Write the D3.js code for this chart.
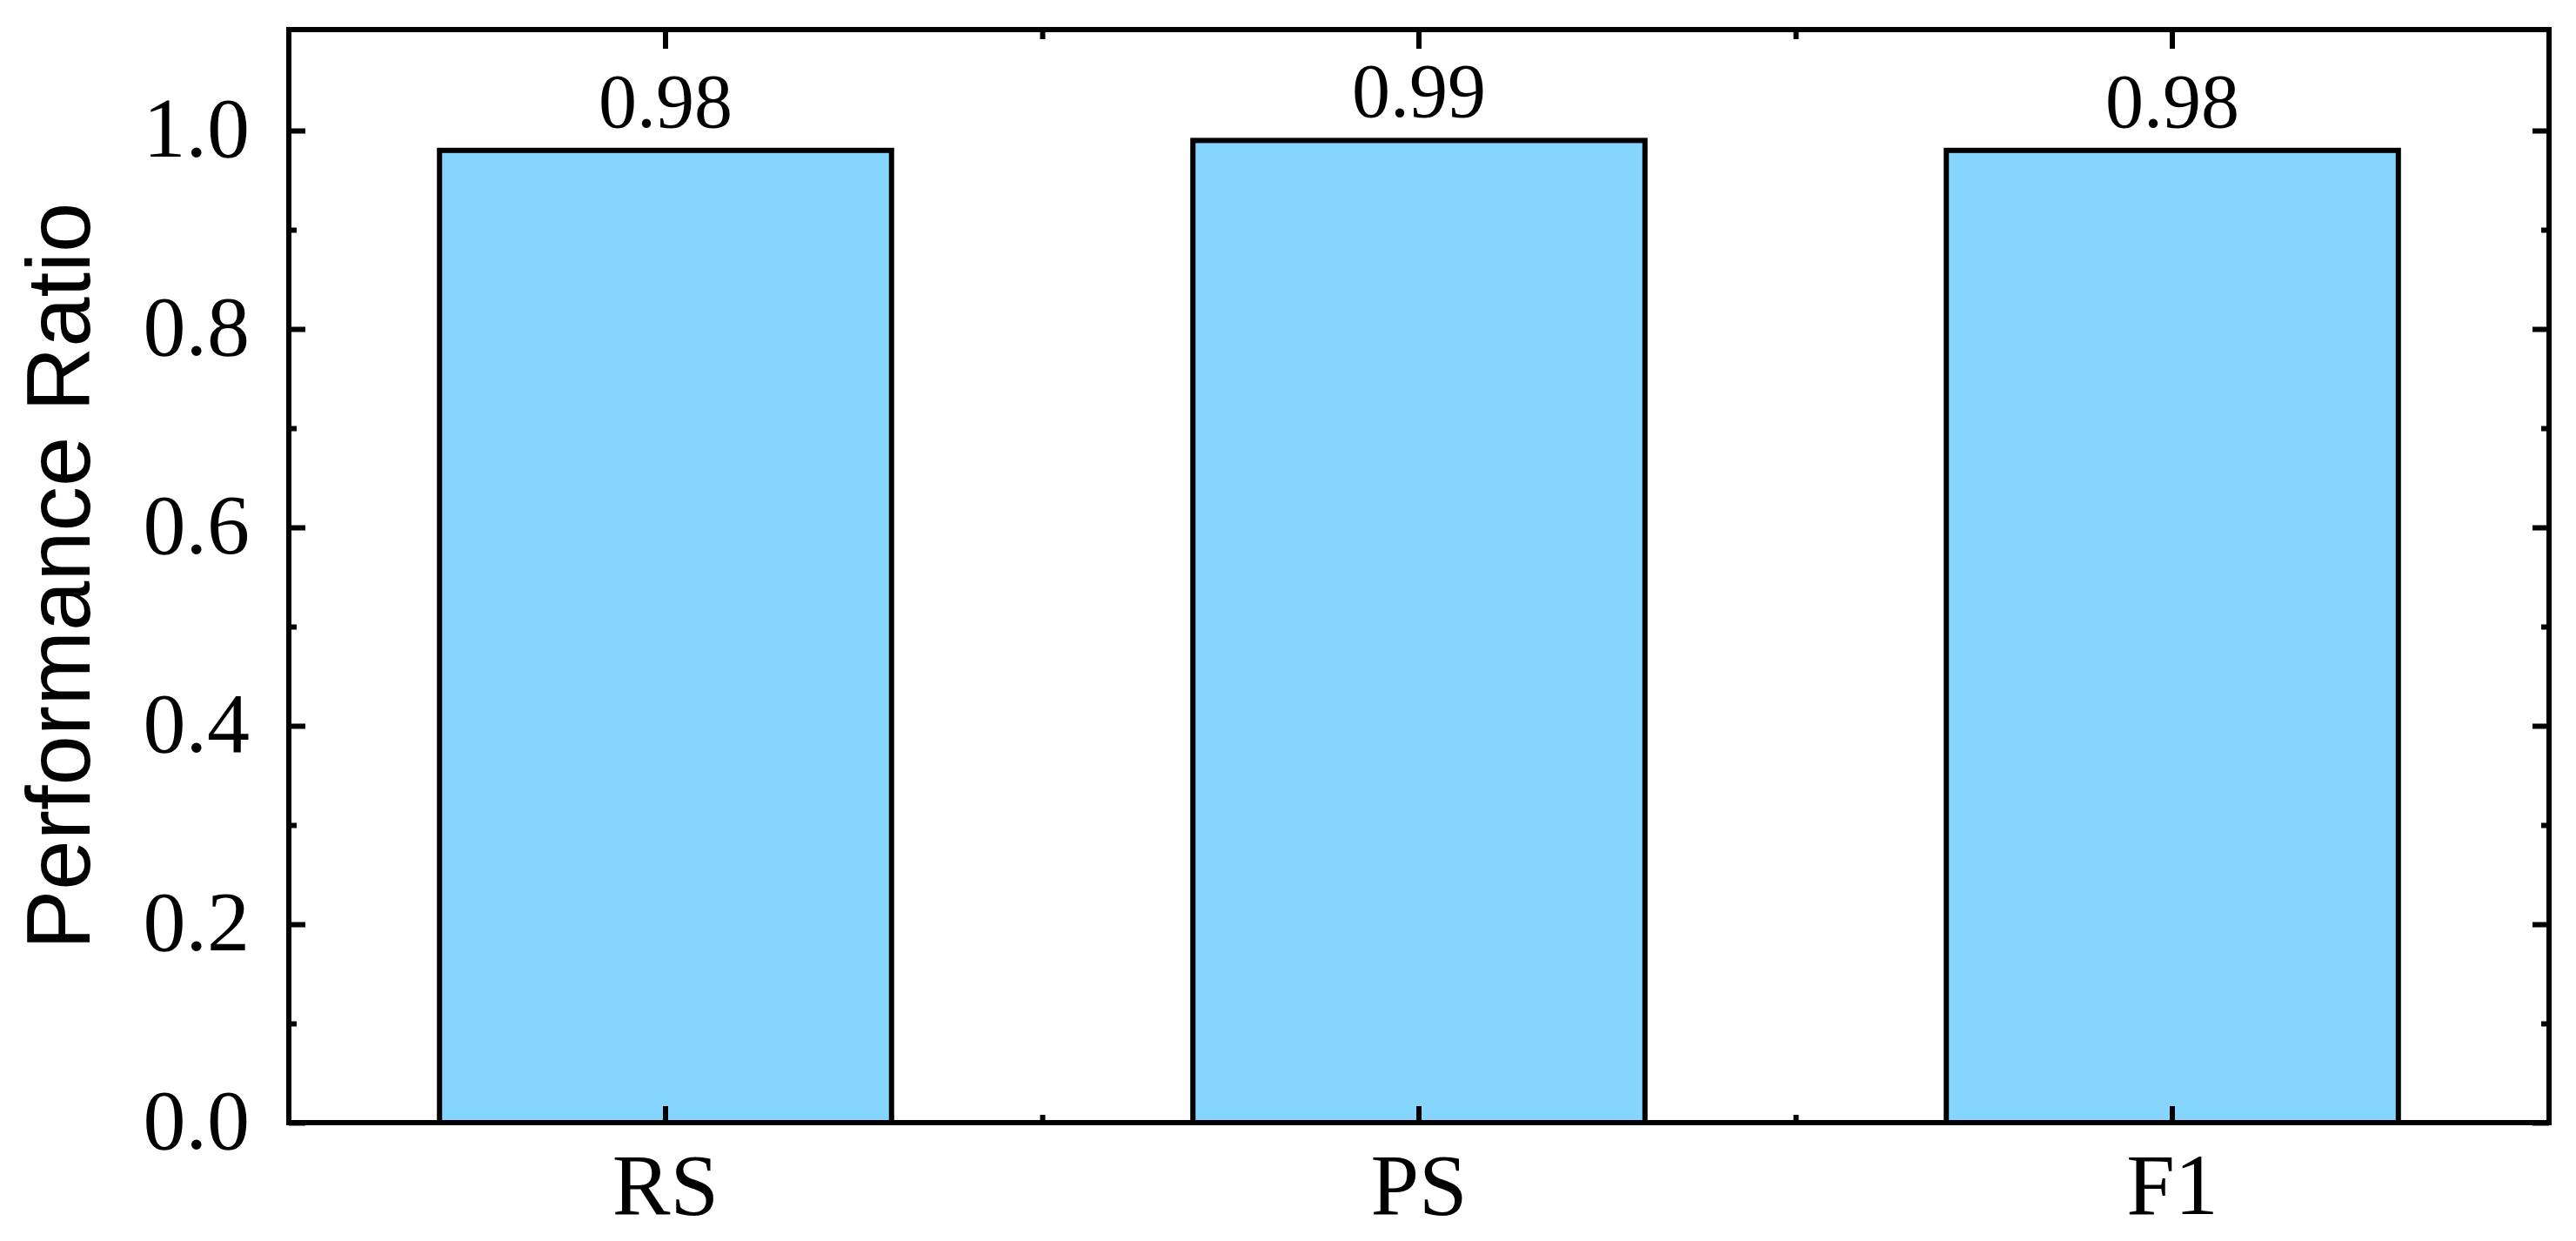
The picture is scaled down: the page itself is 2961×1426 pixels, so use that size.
<!DOCTYPE html>
<html>
<head>
<meta charset="utf-8">
<script src="https://cdn.jsdelivr.net/npm/d3@7"></script>
<style>
  html, body { margin: 0; padding: 0; background: #fff; }
  svg { display: block; }
</style>
</head>
<body>
<svg id="chart" width="2961" height="1426"></svg>
<script>
const categories = ["RS", "PS", "F1"];
const values = [0.98, 0.99, 0.98];
const valueLabels = ["0.98", "0.99", "0.98"];
const yTicks = [0.0, 0.2, 0.4, 0.6, 0.8, 1.0];
const yMinorTicks = [0.1, 0.3, 0.5, 0.7, 0.9];
const yTickLabels = ["0.0", "0.2", "0.4", "0.6", "0.8", "1.0"];
const yTitle = "Performance Ratio";

(function () {
const svg = d3.select("#chart");
const pLeft = 332, pRight = 2930, pTop = 34, pBottom = 1290;

const x = d3.scaleBand().domain(categories).range([pLeft, pRight]).paddingInner(0.4).paddingOuter(0.2);
const y = d3.scaleLinear().domain([0, 1.1]).range([pBottom, pTop + 2]);

const serif = "'Liberation Serif', 'Times New Roman', serif";
const sans = "'Liberation Sans', Arial, sans-serif";

// bars
svg.append("g").selectAll("rect").data(values).join("rect")
  .attr("x", (d, i) => x(categories[i]))
  .attr("y", d => y(d))
  .attr("width", x.bandwidth())
  .attr("height", d => y(0) - y(d))
  .attr("fill", "#85d5fe")
  .attr("stroke", "#000")
  .attr("stroke-width", 6);

// value labels
svg.append("g").selectAll("text").data(values).join("text")
  .attr("x", (d, i) => x(categories[i]) + x.bandwidth() / 2)
  .attr("y", d => y(d) - 27)
  .attr("text-anchor", "middle")
  .attr("font-family", serif)
  .attr("font-size", 88)
  .attr("fill", "#000")
  .text((d, i) => valueLabels[i]);

const tickW = 6;
function styleAxis(g) {
  g.selectAll("path.domain").remove();
  g.selectAll(".tick line").attr("stroke", "#000").attr("stroke-width", tickW);
}

// left axis major
const yAxisL = d3.axisLeft(y).tickValues(yTicks).tickSize(-19).tickPadding(45)
  .tickFormat((d, i) => yTickLabels[i]);
const gL = svg.append("g").attr("transform", `translate(${pLeft},0)`).call(yAxisL);
styleAxis(gL);
gL.selectAll(".tick text")
  .attr("font-family", serif).attr("font-size", 98).attr("fill", "#000")
  .attr("dy", "0.30em");

svg.append("g").attr("transform", `translate(${pLeft},0)`)
  .call(d3.axisLeft(y).tickValues(yMinorTicks).tickSize(-9).tickFormat(""))
  .call(styleAxis);

// right axis
svg.append("g").attr("transform", `translate(${pRight},0)`)
  .call(d3.axisRight(y).tickValues(yTicks).tickSize(-19).tickFormat(""))
  .call(styleAxis);
svg.append("g").attr("transform", `translate(${pRight},0)`)
  .call(d3.axisRight(y).tickValues(yMinorTicks).tickSize(-9).tickFormat(""))
  .call(styleAxis);

// bottom axis
const gB = svg.append("g").attr("transform", `translate(0,${pBottom})`)
  .call(d3.axisBottom(x).tickSize(-19).tickPadding(34));
styleAxis(gB);
gB.selectAll(".tick text")
  .attr("font-family", serif).attr("font-size", 100).attr("fill", "#000")
  .attr("dy", "0.71em");

// minor x ticks (between categories)
const xMinor = categories.slice(1).map((c, i) => (x(categories[i]) + x.bandwidth() / 2 + x(c) + x.bandwidth() / 2) / 2);
const xLin = d3.scaleLinear().domain([pLeft, pRight]).range([pLeft, pRight]);
svg.append("g").attr("transform", `translate(0,${pBottom})`)
  .call(d3.axisBottom(xLin).tickValues(xMinor).tickSize(-9).tickFormat(""))
  .call(styleAxis);

// top axis
svg.append("g").attr("transform", `translate(0,${pTop})`)
  .call(d3.axisTop(x).tickSize(-22).tickFormat(""))
  .call(styleAxis);
svg.append("g").attr("transform", `translate(0,${pTop})`)
  .call(d3.axisTop(xLin).tickValues(xMinor).tickSize(-11).tickFormat(""))
  .call(styleAxis);

// frame
svg.append("rect")
  .attr("x", pLeft).attr("y", pTop)
  .attr("width", pRight - pLeft).attr("height", pBottom - pTop)
  .attr("fill", "none").attr("stroke", "#000").attr("stroke-width", 6);

// y title
svg.append("text")
  .attr("transform", `translate(103,${(pTop + pBottom) / 2}) rotate(-90)`)
  .attr("text-anchor", "middle")
  .attr("font-family", sans)
  .attr("font-size", 103)
  .attr("fill", "#000")
  .text(yTitle);
})();
</script>
</body>
</html>
